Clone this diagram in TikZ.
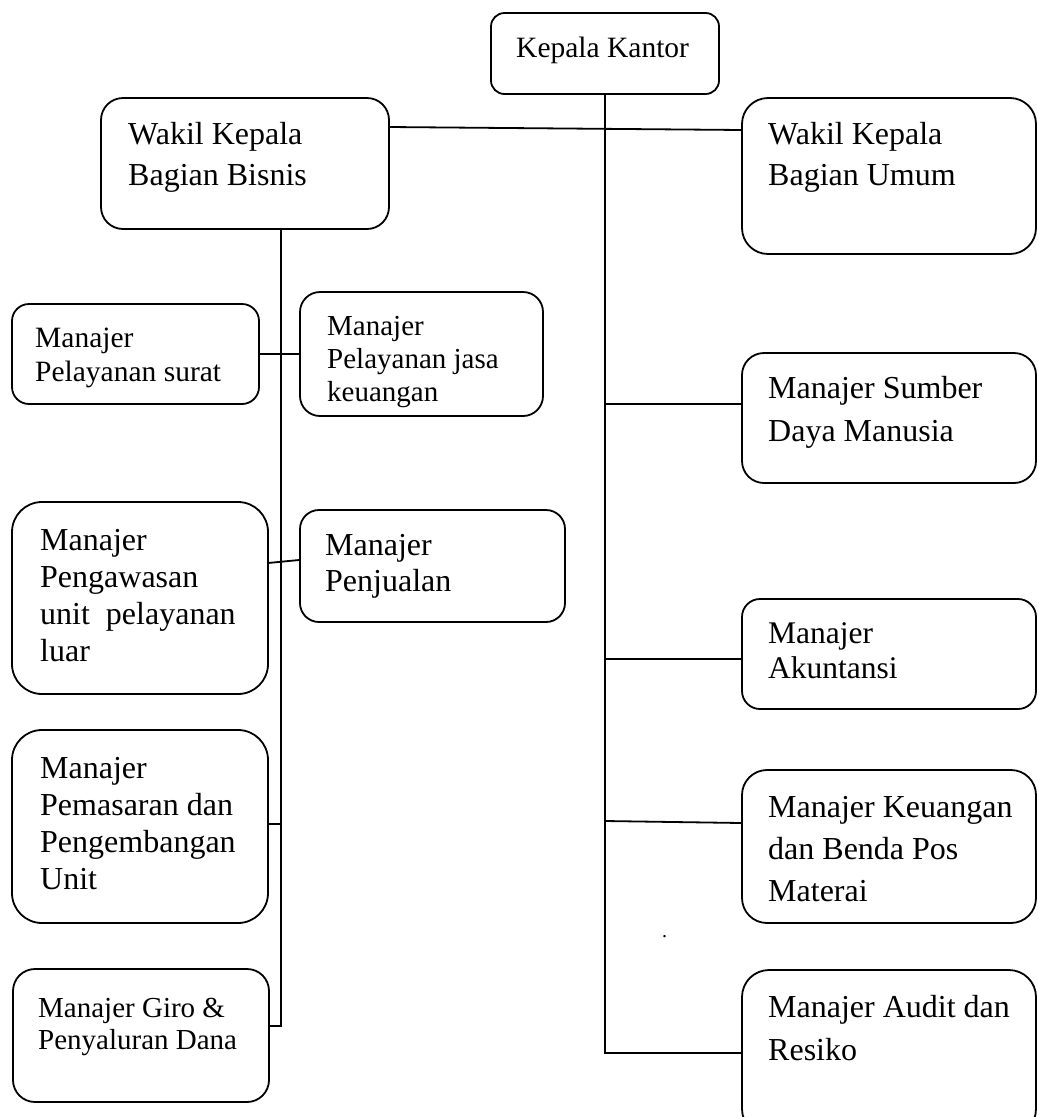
\documentclass[tikz,border=0pt]{standalone}
\usepackage{fontspec}
\setmainfont{Liberation Serif}
\newlength{\du}
\setlength{\du}{1pt}

\begin{document}
\begin{tikzpicture}[
  kotak/.style={draw, line width=1.8\du, inner sep=0pt},
  teks/.style={anchor=base west, inner sep=0pt, align=left},
  garis/.style={line width=1.8\du},
]
\pgftransformxscale{1.000000}
\pgftransformyscale{-1.000000}
\useasboundingbox (0\du,0\du) rectangle (1038\du,1117\du);
\clip (0\du,0\du) rectangle (1038\du,1117\du);
% kotak-kotak
\node[kotak, minimum width=228\du, minimum height=81\du, rounded corners=13.5\du] (kk) at (605\du,53.5\du) {};
\node[kotak, minimum width=288\du, minimum height=131\du, rounded corners=22\du] (wkbb) at (245\du,163.5\du) {};
\node[kotak, minimum width=294\du, minimum height=156\du, rounded corners=26\du] (wkbu) at (889\du,176\du) {};
\node[kotak, minimum width=247\du, minimum height=100\du, rounded corners=17\du] (mps) at (135.5\du,354\du) {};
\node[kotak, minimum width=243\du, minimum height=124\du, rounded corners=20\du] (mpjk) at (421.5\du,354\du) {};
\node[kotak, minimum width=294\du, minimum height=130\du, rounded corners=22\du] (msdm) at (889\du,418\du) {};
\node[kotak, minimum width=256\du, minimum height=192\du, rounded corners=30\du] (mpul) at (140\du,598\du) {};
\node[kotak, minimum width=265\du, minimum height=112\du, rounded corners=19\du] (mpj) at (432.5\du,566\du) {};
\node[kotak, minimum width=294\du, minimum height=110\du, rounded corners=18\du] (ma) at (889\du,654\du) {};
\node[kotak, minimum width=256\du, minimum height=193\du, rounded corners=30\du] (mpp) at (140\du,826.5\du) {};
\node[kotak, minimum width=294\du, minimum height=153\du, rounded corners=25\du] (mkb) at (889\du,846.5\du) {};
\node[kotak, minimum width=256\du, minimum height=133\du, rounded corners=22\du] (mgpd) at (141\du,1035.5\du) {};
\node[kotak, minimum width=294\du, minimum height=166\du, rounded corners=27\du] (mar) at (889\du,1053\du) {};
% tulisan (titik = baris terakhir)
\node[teks, font=\fontsize{29.5}{34}\selectfont] (tkk) at (516\du,57\du) {Kepala Kantor};
\node[teks, font=\fontsize{32}{41}\selectfont] (twkbb) at (128\du,185\du) {Wakil Kepala\\Bagian Bisnis};
\node[teks, font=\fontsize{32}{41}\selectfont] (twkbu) at (768\du,185\du) {Wakil Kepala\\Bagian Umum};
\node[teks, font=\fontsize{29.5}{34}\selectfont] (tmps) at (35\du,381\du) {Manajer\\Pelayanan surat};
\node[teks, font=\fontsize{29}{33}\selectfont] (tmpjk) at (327\du,401\du) {Manajer\\Pelayanan jasa\\keuangan};
\node[teks, font=\fontsize{32}{43}\selectfont] (tmsdm) at (768\du,441\du) {Manajer Sumber\\Daya Manusia};
\node[teks, font=\fontsize{32}{37}\selectfont] (tmpul) at (40\du,661\du) {Manajer\\Pengawasan\\unit\enspace pelayanan\\luar};
\node[teks, font=\fontsize{32}{36}\selectfont] (tmpj) at (325\du,591\du) {Manajer\\Penjualan};
\node[teks, font=\fontsize{31.5}{35}\selectfont] (tma) at (768\du,678\du) {Manajer\\Akuntansi};
\node[teks, font=\fontsize{32}{37}\selectfont] (tmpp) at (40\du,889\du) {Manajer\\Pemasaran dan\\Pengembangan\\Unit};
\node[teks, font=\fontsize{32}{42}\selectfont] (tmkb) at (768\du,901\du) {Manajer Keuangan\\dan Benda Pos\\Materai};
\node[teks, font=\fontsize{29}{32}\selectfont] (tmgpd) at (38\du,1049\du) {Manajer Giro \&\\Penyaluran Dana};
\node[teks, font=\fontsize{32}{43}\selectfont] (tmar) at (768\du,1060\du) {Manajer Audit dan\\Resiko};
\node[teks, font=\fontsize{20}{20}\selectfont] (titik) at (662\du,937\du) {.};
% garis kanan
\coordinate (h1) at (389\du,127\du);
\coordinate (h1b) at (742\du,130\du);
\coordinate (b1) at (605\du,404\du);
\coordinate (b2) at (605\du,659\du);
\coordinate (b3) at (605\du,821\du);
\draw[garis] (h1) -- (h1b);
\draw[garis] (kk.south) |- (mar.west);
\draw[garis] (b1) -- (b1 -| msdm.west);
\draw[garis] (b2) -- (b2 -| ma.west);
\draw[garis] (b3) -- ([yshift=2\du]b3 -| mkb.west);
% garis kiri
\coordinate (t2) at (281\du,1026\du);
\coordinate (h2) at (268\du,563\du);
\coordinate (h3) at (268\du,824\du);
\draw[garis] (wkbb.south -| t2) -- (t2) -- (t2 -| mgpd.east);
\draw[garis] (mps.east) -- (mps.east -| mpjk.west);
\draw[garis] (h2) -- ([yshift=-3\du]h2 -| mpj.west);
\draw[garis] (h3) -- (h3 -| t2);
\end{tikzpicture}
\end{document}
